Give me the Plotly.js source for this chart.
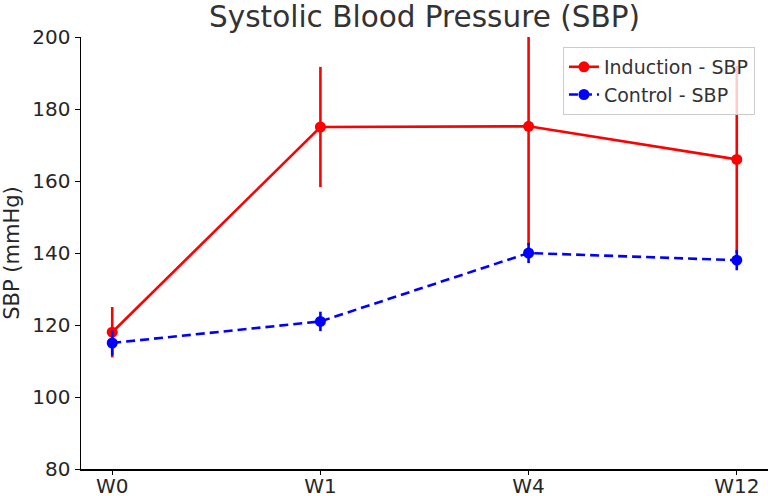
<!DOCTYPE html>
<html>
<head>
<meta charset="utf-8">
<script src="https://cdn.plot.ly/plotly-3.0.1.min.js"></script>
<style>
  html, body { margin: 0; padding: 0; background: #fff; }
  #chart { width: 768px; height: 496px; }
</style>
</head>
<body>
<div id="chart"></div>
<script>
// Time points
const weeks = ['W0', 'W1', 'W4', 'W12'];

// Induction group: mean SBP and error (mmHg)
const inductionMean = [118, 175, 175.2, 166];
const inductionErr = [7, 16.7, 33, 26];

// Control group: mean SBP and error (mmHg)
const controlMean = [115, 121, 140, 138];
const controlErr = [3.5, 2.7, 2.8, 2.8];

const yTicks = [80, 100, 120, 140, 160, 180, 200];

const traces = [
  {
    x: weeks, y: inductionMean, name: 'Induction - SBP',
    type: 'scatter', mode: 'lines+markers',
    line: { color: '#ff0000', width: 2.6 },
    marker: { color: '#ff0000', size: 11 },
    error_y: { type: 'data', array: inductionErr, visible: true, color: '#ff0000', thickness: 2.6, width: 0 }
  },
  {
    x: weeks, y: controlMean, name: 'Control - SBP',
    type: 'scatter', mode: 'lines+markers',
    line: { color: '#0000ff', width: 2.6, dash: '9px,5px' },
    marker: { color: '#0000ff', size: 11 },
    error_y: { type: 'data', array: controlErr, visible: true, color: '#0000ff', thickness: 2.6, width: 0 }
  }
];

const layout = {
  width: 768, height: 496,
  margin: { l: 81, r: 0, t: 37, b: 27 },
  paper_bgcolor: '#ffffff', plot_bgcolor: '#ffffff',
  font: { family: 'DejaVu Sans, sans-serif', color: '#262626', size: 20 },
  title: {
    text: 'Systolic Blood Pressure (SBP)',
    font: { size: 29.5, color: '#333333' },
    x: 0.5, xref: 'paper', xanchor: 'center',
    y: 0.966, yref: 'container', yanchor: 'middle'
  },
  xaxis: {
    type: 'category', range: [-0.15, 3.15],
    showgrid: false, zeroline: false,
    showline: true, linecolor: '#000000', linewidth: 1.5,
    ticks: 'outside', ticklen: 4, tickcolor: '#000000', tickwidth: 1,
    ticklabelstandoff: -6,
    tickfont: { size: 20, color: '#262626' }
  },
  yaxis: {
    range: [80, 200], tickvals: yTicks,
    showgrid: false, zeroline: false,
    showline: true, linecolor: '#000000', linewidth: 1.5,
    ticks: 'outside', ticklen: 5, tickcolor: '#000000', tickwidth: 1,
    tickfont: { size: 20, color: '#262626' },
    title: { text: 'SBP (mmHg)', font: { size: 21, color: '#262626' }, standoff: 10 }
  },
  showlegend: true,
  legend: {
    x: 0.981, xanchor: 'right', y: 0.977, yanchor: 'top',
    bgcolor: 'rgba(255,255,255,0.8)', bordercolor: '#cccccc', borderwidth: 1,
    font: { size: 19, color: '#333333' }
  }
};

Plotly.newPlot('chart', traces, layout, { displayModeBar: false, staticPlot: true });
</script>
</body>
</html>
